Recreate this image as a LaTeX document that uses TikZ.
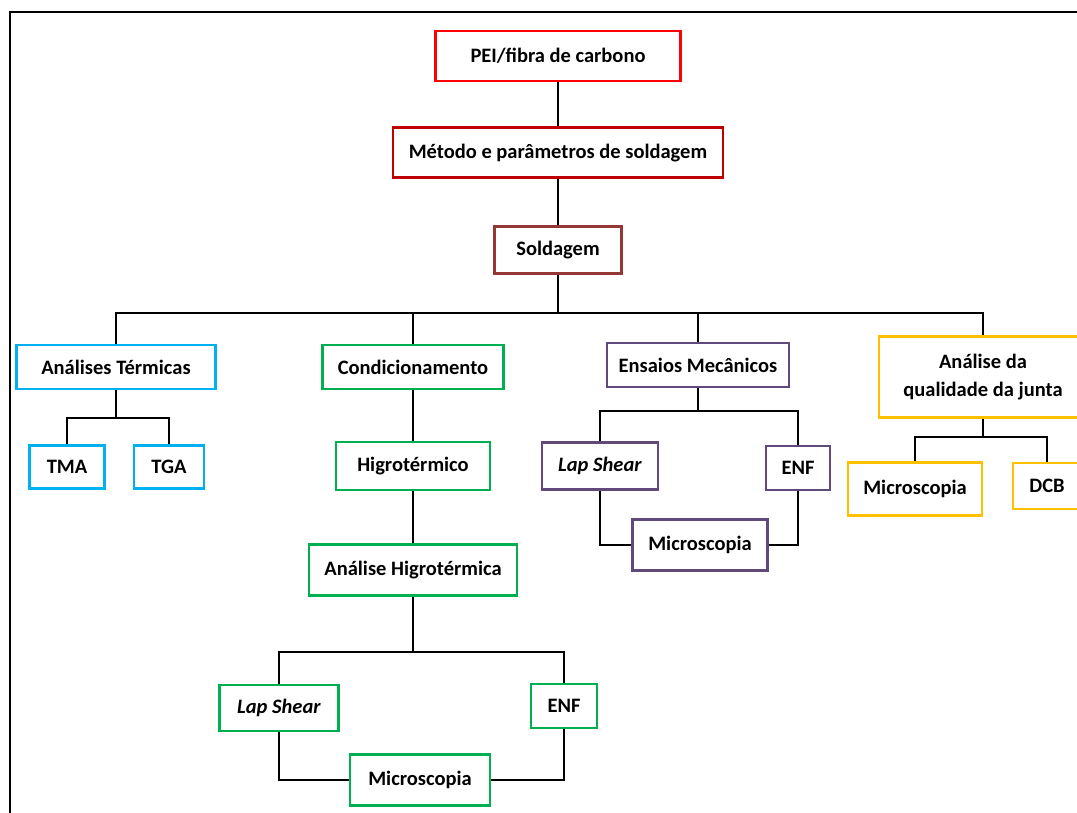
\documentclass[tikz,border=0pt]{standalone}
\usepackage{fontspec}
\setmainfont{Carlito}
\usepackage{tikz}
\usetikzlibrary{positioning}

\definecolor{vermelho}{HTML}{FF0000}
\definecolor{vinho}{HTML}{C00000}
\definecolor{marrom}{HTML}{953735}
\definecolor{azul}{HTML}{00B0F0}
\definecolor{verde}{HTML}{00B050}
\definecolor{roxo}{HTML}{604A7B}
\definecolor{amarelo}{HTML}{FFC000}

\begin{document}
\begin{tikzpicture}[x=1pt, y=-1pt, line width=1.4pt, draw=black, node distance=44pt]
				\tikzset{caixa/.style={rectangle, draw, line width=2.6pt, fill=white, inner sep=0pt, align=center,
					font=\fontsize{20.5}{25}\selectfont\bfseries, minimum height=46pt}}
				\useasboundingbox (0,0) rectangle (1077,812);

				%MOLDURA
				\draw[line width=2pt] (10,815) -- (10,12) -- (1080,12);

				%TOPO
				\node[caixa, draw=vermelho, minimum width=245pt, minimum height=50pt] (pei) at (558,56) {PEI/fibra de carbono};
				\node[caixa, draw=vinho, minimum width=330pt, minimum height=50pt] (metodo) [below=44pt of pei] {Método e parâmetros de soldagem};
				\node[caixa, draw=marrom, minimum width=127pt, minimum height=47pt] (solda) [below=46pt of metodo] {Soldagem};

				%RAMOS
				\node[caixa, draw=azul, minimum width=199pt, minimum height=44pt] (termica) at (116,367) {Análises Térmicas};
				\node[caixa, draw=verde, minimum width=181pt, minimum height=44pt] (condic) at (413,367) {Condicionamento};
				\node[caixa, draw=roxo, minimum width=182pt, minimum height=44pt] (ensaios) at (698,365) {Ensaios Mecânicos};
				\node[caixa, draw=amarelo, minimum width=208pt, minimum height=81pt] (qualid) at (983,377) {Análise da\\[3pt]qualidade da junta};

				%TERMICAS
				\node[caixa, draw=azul, minimum width=75pt, minimum height=43pt] (tma) at (67,467) {TMA};
				\node[caixa, draw=azul, minimum width=70pt, minimum height=43pt] (tga) at (169,467) {TGA};

				%CONDICIONAMENTO
				\node[caixa, draw=verde, minimum width=154pt, minimum height=48pt] (higro) at (413,466) {Higrotérmico};
				\node[caixa, draw=verde, minimum width=208pt, minimum height=51pt] (anhigro) at (413,570) {Análise Higrotérmica};
				\node[caixa, draw=verde, minimum width=119pt, minimum height=46pt] (lapA) at (279,708) {\textit{Lap Shear}};
				\node[caixa, draw=verde, minimum width=66pt, minimum height=44pt] (enfA) at (564,706) {ENF};
				\node[caixa, draw=verde, minimum width=140pt, minimum height=51pt] (microA) at (420,780) {Microscopia};

				%ENSAIOS
				\node[caixa, draw=roxo, minimum width=116pt, minimum height=47pt] (lapB) at (600,466) {\textit{Lap Shear}};
				\node[caixa, draw=roxo, minimum width=64pt, minimum height=44pt] (enfB) at (798,468) {ENF};
				\node[caixa, draw=roxo, minimum width=135pt, minimum height=51pt] (microB) at (700,545) {Microscopia};

				%QUALIDADE
				\node[caixa, draw=amarelo, minimum width=134pt, minimum height=53pt] (microC) at (915,489) {Microscopia};
				\node[caixa, draw=amarelo, minimum width=68pt, minimum height=46pt] (dcb) at (1047,486) {DCB};

				%LIGACOES
				\coordinate (b1) at (558,313);
				\coordinate (b2) at (116,418);
				\coordinate (b3) at (413,652);
				\coordinate (b4) at (698,411);
				\coordinate (b5) at (983,437);

				\draw (pei) -- (metodo);
				\draw (metodo) -- (solda);
				\draw (solda) -- (b1);
				\draw (termica.north) |- (b1) -| (qualid.north);
				\draw (condic.north) -- (condic.north |- b1);
				\draw (ensaios.north) -- (ensaios.north |- b1);

				\draw (termica) -- (b2);
				\draw (tma.north) |- (b2) -| (tga.north);

				\draw (condic) -- (higro);
				\draw (higro) -- (anhigro);
				\draw (anhigro) -- (b3);
				\draw (lapA.north) |- (b3) -| (enfA.north);
				\draw (lapA.south) |- (microA.west);
				\draw (enfA.south) |- (microA.east);

				\draw (ensaios) -- (b4);
				\draw (lapB.north) |- (b4) -| (enfB.north);
				\draw (lapB.south) |- (microB.west);
				\draw (enfB.south) |- (microB.east);

				\draw (qualid) -- (b5);
				\draw (microC.north) |- (b5) -| (dcb.north);
			\end{tikzpicture}
\end{document}
